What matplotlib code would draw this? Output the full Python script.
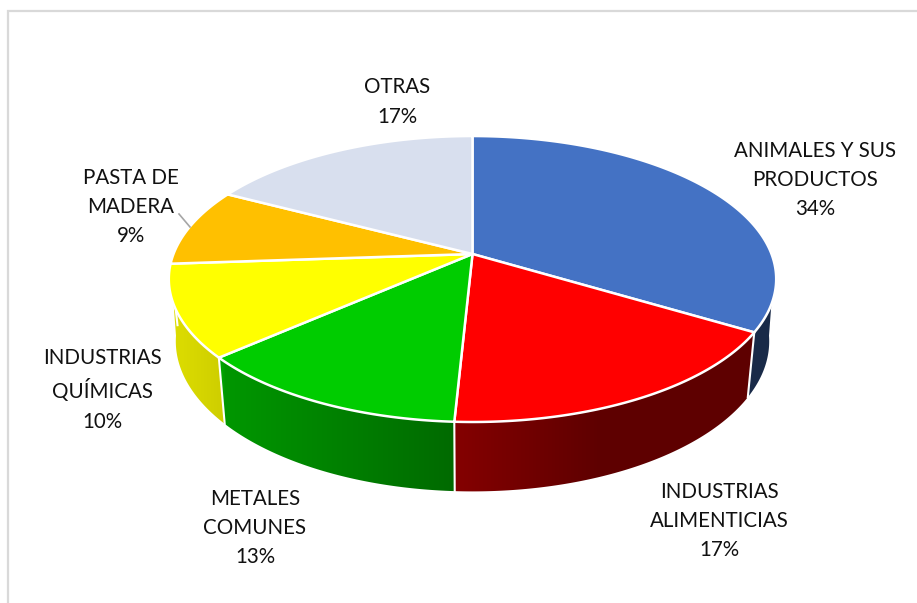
import numpy as np
import matplotlib
matplotlib.use("Agg")
import matplotlib.pyplot as plt
from matplotlib.patches import Polygon

# --- data ---
categories = ["ANIMALES Y SUS\nPRODUCTOS", "INDUSTRIAS\nALIMENTICIAS", "METALES\nCOMUNES",
              "INDUSTRIAS\nQUÍMICAS", "PASTA DE\nMADERA", "OTRAS"]
values = [33.6, 17.2, 12.7, 10.4, 8.8, 17.3]

# --- style ---
colors = ["#4472C4", "#FF0000", "#00CC00", "#FFFF00", "#FFC000", "#D8DFEE"]
label_pos = [(815, 180), (719, 521), (255, 528), (102, 390), (131, 207), (397, 102)]

CX, CY = 472.5, 254
A, B, K = 299.0, 138.6, 0.175


def top(theta):
    """Project angle (clockwise from 12 o'clock) on the perspective top face."""
    u, v = np.sin(theta), np.cos(theta)
    d = 1 + K * v
    return A * u / d, -B * v / d


def bottom(theta):
    x, y = top(theta)
    return 0.977 * x, 1.05 * y + 61


def shade(px):
    return np.interp(px, [170, 222, 225, 454, 600, 780], [.87, .81, .74, .52, .37, .37])


fig = plt.figure(figsize=(9.17, 6.03), dpi=100)
ax = fig.add_axes([0, 0, 1, 1])

# chart frame
ax.plot([8, 8, 917], [602, 11, 11], color="#D9D9D9", lw=1.6, solid_joinstyle="miter")

vals = np.array(values, float)
edges = np.concatenate([[0], np.cumsum(vals)]) / vals.sum() * 2 * np.pi

# side walls: horizontal gradient clipped to each wall outline
px = np.arange(160, 790)
for i, col in enumerate(colors):
    lo, hi = edges[i], edges[i + 1]
    t_lo, t_hi = max(lo, np.radians(110)), min(hi, np.radians(250))
    b_lo, b_hi = max(lo, np.radians(98)), min(hi, np.radians(262))
    if t_hi <= t_lo:
        continue
    tt = np.linspace(t_lo, t_hi, 300)
    tb = np.linspace(b_lo, b_hi, 300)
    xt, yt = top(tt)
    xb, yb = bottom(tb)
    outline = np.c_[np.r_[CX + xt, (CX + xb)[::-1]], np.r_[CY + yt, (CY + yb)[::-1]]]
    base = np.array(matplotlib.colors.to_rgb(col))
    grad = (base[None, :] * shade(px)[:, None])[None, :, :]
    im = ax.imshow(grad, extent=(px[0], px[-1], 520, 250), aspect="auto",
                   interpolation="bilinear", zorder=2)
    patch = Polygon(outline, closed=True, transform=ax.transData, facecolor="none", edgecolor="none")
    ax.add_patch(patch)
    im.set_clip_path(patch)

# white separators on the visible walls
for e in edges[:-1]:
    if np.cos(e) < 0:
        xt, yt = top(e)
        xb, yb = bottom(e)
        ax.plot([CX + xt, CX + xb], [CY + yt, CY + yb], color="white", lw=1.5, zorder=3)

# top face
for i, col in enumerate(colors):
    t = np.linspace(edges[i], edges[i + 1], 200)
    x, y = top(t)
    ax.fill(np.r_[CX, CX + x], np.r_[CY, CY + y], facecolor=col, edgecolor="white",
            lw=1.8, joinstyle="round", zorder=4)

# leader line for PASTA DE MADERA
ax.plot([179, 190], [214, 227], color="#A6A6A6", lw=1.2, zorder=5)

# labels
for cat, v, (lx, ly) in zip(categories, values, label_pos):
    ax.text(lx, ly, f"{cat}\n{v:.0f}%", ha="center", va="center", family="Lato",
            fontsize=14.8, color="#111111", linespacing=1.58, zorder=6)

ax.set_xlim(0, 917)
ax.set_ylim(603, 0)
ax.axis("off")

fig.savefig("out.png", dpi=100, facecolor="white")
